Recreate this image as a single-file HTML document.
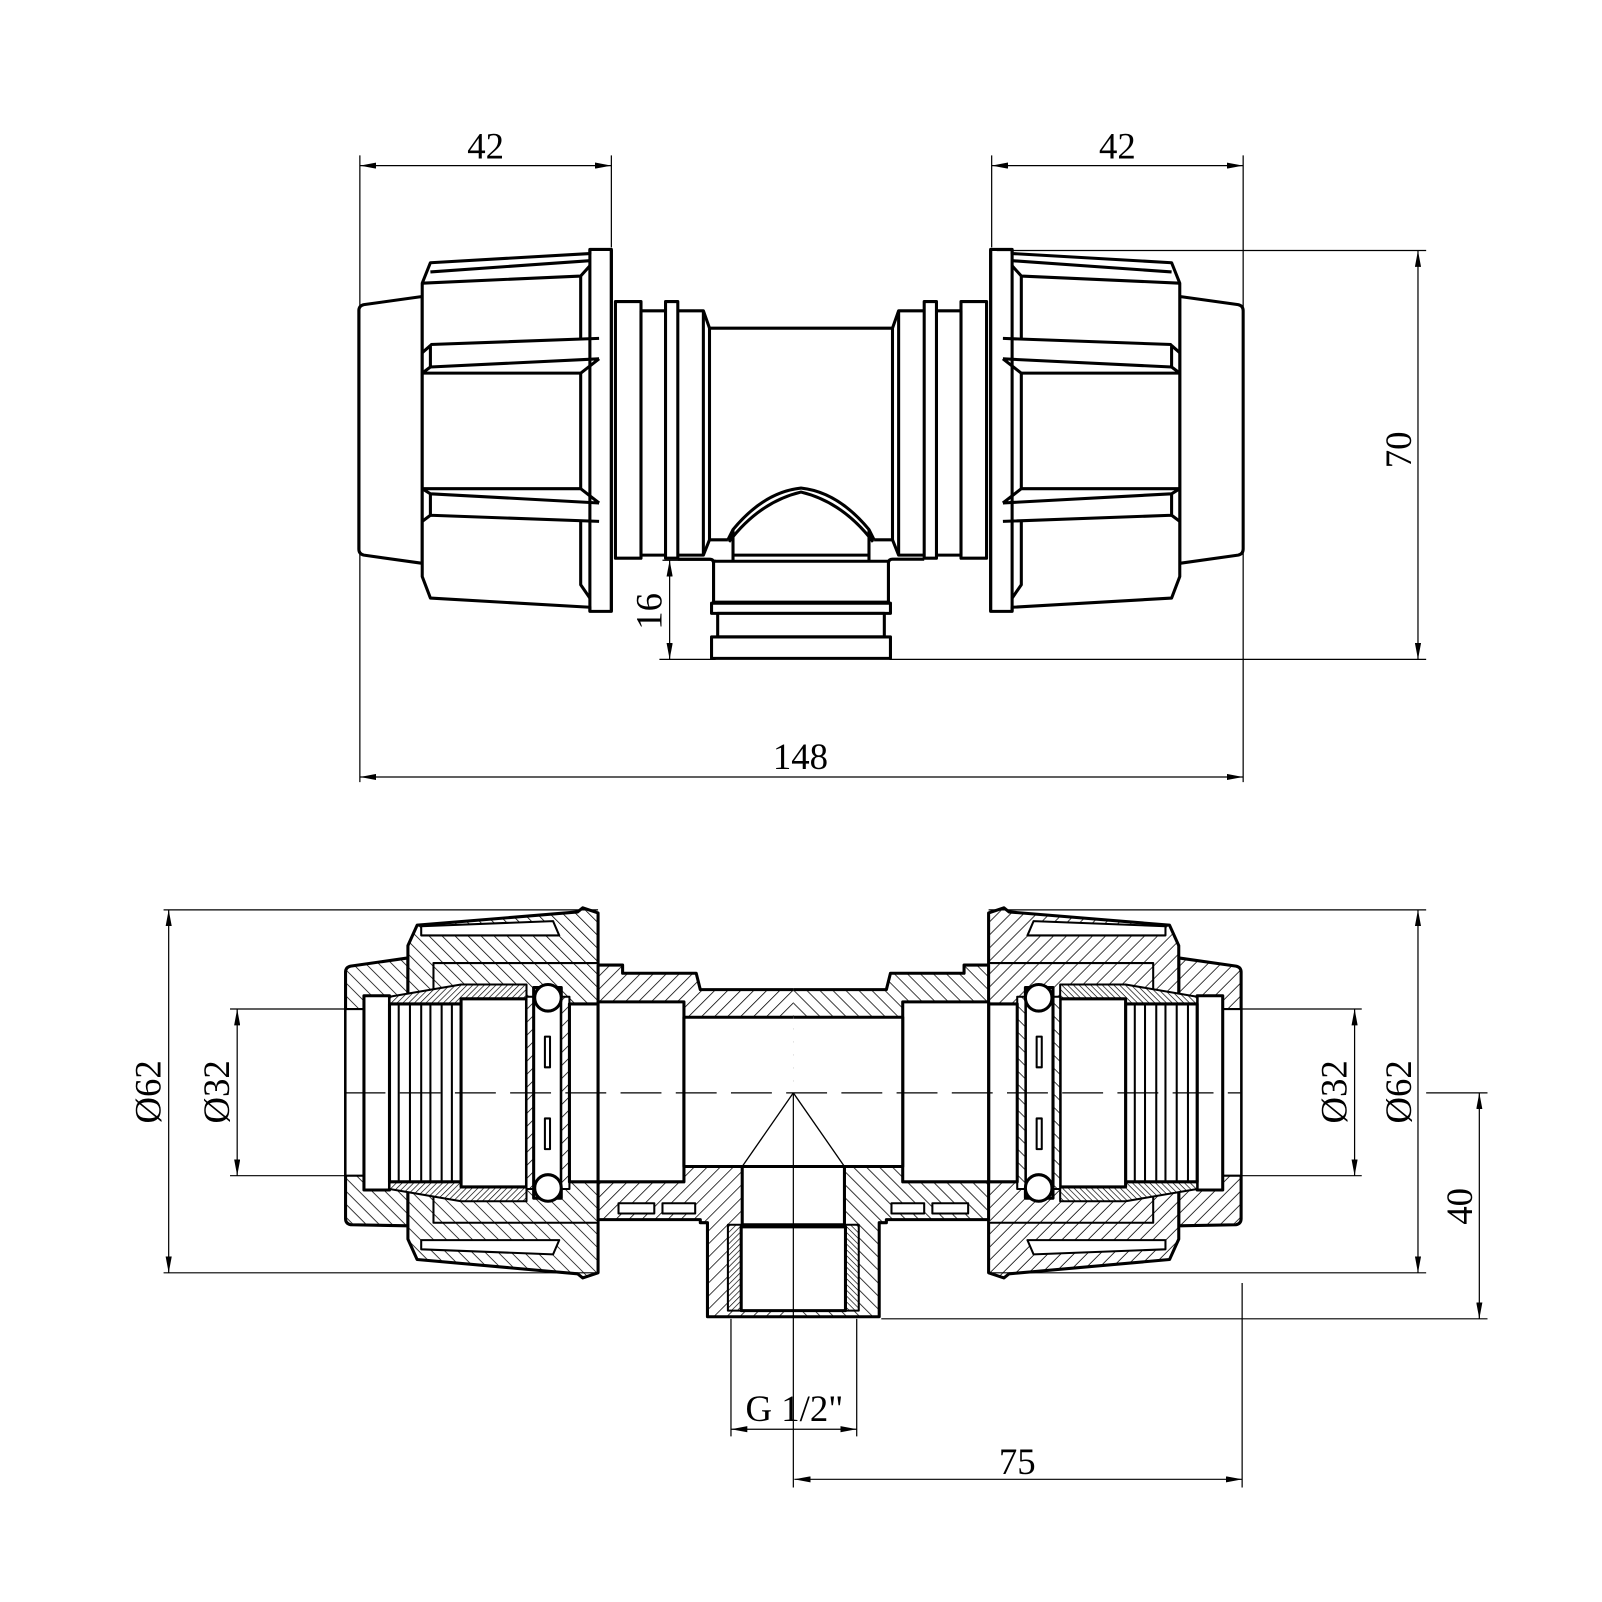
<!DOCTYPE html>
<html><head><meta charset="utf-8"><style>html,body{margin:0;padding:0;background:#fff}svg{display:block}</style></head><body>
<svg width="1602" height="1602" viewBox="0 0 1567 1567" xmlns="http://www.w3.org/2000/svg" font-family="Liberation Serif, serif">
<defs>
<pattern id="hA" width="9" height="9" patternUnits="userSpaceOnUse" patternTransform="rotate(45)"><rect width="9" height="9" fill="#fff"/><line x1="0" y1="0" x2="0" y2="9" stroke="#000" stroke-width="1.5"/></pattern>
<pattern id="hB" width="9" height="9" patternUnits="userSpaceOnUse" patternTransform="rotate(-45)"><rect width="9" height="9" fill="#fff"/><line x1="0" y1="0" x2="0" y2="9" stroke="#000" stroke-width="1.5"/></pattern>
<pattern id="hX" width="4" height="4" patternUnits="userSpaceOnUse" patternTransform="rotate(45)"><rect width="4" height="4" fill="#fff"/><line x1="0" y1="0" x2="0" y2="4" stroke="#000" stroke-width="1.3"/></pattern>
<marker id="ar" viewBox="0 0 16 6" refX="16" refY="3" markerWidth="16" markerHeight="6" orient="auto-start-reverse" markerUnits="userSpaceOnUse"><path d="M0,0 L16,3 L0,6 z" fill="#000"/></marker>
<clipPath id="cT"><rect x="0" y="0" width="783.5" height="1567"/></clipPath>
<clipPath id="cS"><rect x="0" y="0" width="776" height="1567"/></clipPath>
</defs>

<!-- ========== TOP VIEW ========== -->
<g id="topHalf" clip-path="url(#cT)" fill="#fff" stroke="#000" stroke-width="3" stroke-linejoin="round">
 <path d="M413,290 L356,298 Q351,299 351,304 L351,537 Q351,542 356,543 L413,551 Z"/>
 <path d="M413,277 L421,257 L577,248 L577,244 L598,244 L598,598 L577,598 L577,594 L421,585 L413,564 Z"/>
 <line x1="598" y1="244" x2="598" y2="598"/>
 <line x1="577" y1="244" x2="577" y2="598"/>
 <path d="M413,277 L568,270 L577,260 M421,266 L577,255" fill="none"/>
 <path d="M421,337 L586,331 M413,345 L421,338 L421,359 L413,365 M421,359 L586,351 M413,365 L568,365 L586,351" fill="none"/>
 <path d="M413,478 L568,478 L586,492 M421,483 L586,492 M413,478 L421,483 L421,504 L413,510 M421,504 L586,510" fill="none"/>
 <path d="M568,270 L568,331 M568,365 L568,478 M568,510 L568,572 L577,585" fill="none"/>
 <rect x="602" y="295" width="25" height="251"/>
 <rect x="627" y="304" width="24" height="239"/>
 <rect x="651" y="295" width="12" height="251"/>
 <path d="M663,304 L688,304 L694,321 L800,321 M663,543 L688,543 L694,528 L712,528" fill="none"/>
 <line x1="688" y1="304" x2="688" y2="543"/>
 <line x1="694" y1="321" x2="694" y2="528"/>
 <path d="M712,528 L717,518 Q750,478 790,477 M717,518 L717,548 M713,530 Q745,488 790,480" fill="none"/>
 <path d="M663,547 L694,547 Q698,547 698,551 L698,590" fill="none"/>
 <rect x="698" y="549" width="110" height="40"/>
 <rect x="696" y="590" width="110" height="10"/>
 <rect x="702" y="600" width="110" height="23"/>
 <rect x="696" y="623" width="110" height="21"/>
 <line x1="717" y1="543" x2="800" y2="543"/>
</g>
<use href="#topHalf" transform="translate(1567,0) scale(-1,1)"/>

<!-- top view dimensions -->
<g stroke="#000" stroke-width="1.2" fill="none">
 <line x1="352" y1="152" x2="352" y2="765"/>
 <line x1="598" y1="152" x2="598" y2="242"/>
 <line x1="970" y1="152" x2="970" y2="242"/>
 <line x1="1216" y1="152" x2="1216" y2="765"/>
 <line x1="352" y1="162" x2="598" y2="162" marker-start="url(#ar)" marker-end="url(#ar)"/>
 <line x1="970" y1="162" x2="1216" y2="162" marker-start="url(#ar)" marker-end="url(#ar)"/>
 <line x1="352" y1="760" x2="1216" y2="760" marker-start="url(#ar)" marker-end="url(#ar)"/>
 <line x1="975" y1="245" x2="1395" y2="245"/>
 <line x1="870" y1="645" x2="1395" y2="645"/>
 <line x1="645" y1="645" x2="700" y2="645"/>
 <line x1="1387" y1="245" x2="1387" y2="645" marker-start="url(#ar)" marker-end="url(#ar)"/>
 <line x1="648" y1="548" x2="700" y2="548"/>
 <line x1="655" y1="548" x2="655" y2="645" marker-start="url(#ar)" marker-end="url(#ar)"/>
</g>
<g font-size="36" text-anchor="middle" fill="#000">
 <text x="475" y="155">42</text>
 <text x="1093" y="155">42</text>
 <text x="783" y="752">148</text>
 <text transform="translate(1380,440) rotate(-90)">70</text>
 <text transform="translate(647,598) rotate(-90)">16</text>
</g>

<!-- ========== SECTION VIEW ========== -->
<g id="secHalf" clip-path="url(#cS)" stroke="#000" stroke-width="3" stroke-linejoin="round">
 <path d="M399,937 L343,945 Q338,946 338,951 L338,1192 Q338,1197 343,1198 L399,1199 Z" fill="url(#hB)"/>
 <rect x="338" y="987" width="18" height="163" fill="#fff" stroke-width="2"/>
 <rect x="356" y="974" width="25" height="190" fill="#fff"/>
 <path d="M399,925 L408,905 L565,892 L570,888 L585,893 L585,1245 L570,1250 L565,1246 L408,1232 L399,1212 Z" fill="url(#hB)"/>
 <path d="M412,906 L541,901 L547,915 L412,915 Z M412,1222 L541,1227 L547,1213 L412,1213 Z" fill="#fff" stroke-width="2"/>
 <rect x="424" y="942" width="161" height="254" fill="url(#hB)" stroke-width="2"/>
 <path d="M381,975 L451,963 L515,963 L515,977 L451,977 L451,982 L381,982 Z" fill="url(#hX)" stroke-width="2"/>
 <path d="M381,1163 L451,1175 L515,1175 L515,1161 L451,1161 L451,1156 L381,1156 Z" fill="url(#hX)" stroke-width="2"/>
 <rect x="381" y="982" width="70" height="174" fill="#fff"/>
 <path d="M390,982 V1156 M401,982 V1156 M412,982 V1156 M421,982 V1156 M432,982 V1156 M442,982 V1156" stroke-width="2"/>
 <rect x="451" y="977" width="64" height="184" fill="#fff"/>
 <rect x="515" y="975" width="7" height="188" fill="url(#hA)" stroke-width="2"/>
 <rect x="522" y="966" width="27" height="206" fill="#fff"/>
 <rect x="549" y="975" width="8" height="188" fill="url(#hA)" stroke-width="2"/>
 <circle cx="536" cy="976" r="13" fill="#fff"/>
 <circle cx="536" cy="1162" r="13" fill="#fff"/>
 <rect x="533" y="1014" width="5" height="30" fill="#fff" stroke-width="2"/>
 <rect x="533" y="1094" width="5" height="30" fill="#fff" stroke-width="2"/>
 <rect x="557" y="982" width="28" height="174" fill="#fff"/>
 <path d="M585,944 L609,944 L609,952 L681,952 L685,968 L800,968 L800,1288 L692,1288 L692,1196 L685,1196 L685,1193 L585,1193 Z" fill="url(#hA)"/>
 <path d="M605,1177 H640 V1187 H605 Z M648,1177 H680 V1187 H648 Z" fill="#fff" stroke-width="2"/>
 <rect x="585" y="980" width="84" height="176" fill="#fff"/>
 <rect x="669" y="995" width="140" height="146" fill="#fff"/>
 <rect x="726" y="1141" width="80" height="57" fill="#fff"/>
 <rect x="712" y="1198" width="13" height="84" fill="url(#hX)" stroke-width="2"/>
 <rect x="725" y="1200" width="80" height="82" fill="#fff"/>
 <line x1="776" y1="1069" x2="726" y2="1141" stroke-width="1.3"/>
</g>
<use href="#secHalf" transform="translate(1552,0) scale(-1,1)"/>

<g stroke="#000" stroke-width="1.2" fill="none">
 <line x1="337" y1="1069" x2="1215" y2="1069" stroke-dasharray="40,14"/>
 <line x1="776" y1="1069" x2="776" y2="1455"/>
 <line x1="160" y1="890" x2="585" y2="890"/>
 <line x1="160" y1="1245" x2="585" y2="1245"/>
 <line x1="165" y1="890" x2="165" y2="1245" marker-start="url(#ar)" marker-end="url(#ar)"/>
 <line x1="225" y1="987" x2="340" y2="987"/>
 <line x1="225" y1="1150" x2="340" y2="1150"/>
 <line x1="232" y1="987" x2="232" y2="1150" marker-start="url(#ar)" marker-end="url(#ar)"/>
 <line x1="967" y1="890" x2="1395" y2="890"/>
 <line x1="967" y1="1245" x2="1395" y2="1245"/>
 <line x1="1387" y1="890" x2="1387" y2="1245" marker-start="url(#ar)" marker-end="url(#ar)"/>
 <line x1="1212" y1="987" x2="1332" y2="987"/>
 <line x1="1212" y1="1150" x2="1332" y2="1150"/>
 <line x1="1325" y1="987" x2="1325" y2="1150" marker-start="url(#ar)" marker-end="url(#ar)"/>
 <line x1="1395" y1="1069" x2="1455" y2="1069"/>
 <line x1="862" y1="1290" x2="1455" y2="1290"/>
 <line x1="1447" y1="1069" x2="1447" y2="1290" marker-start="url(#ar)" marker-end="url(#ar)"/>
 <line x1="1215" y1="1255" x2="1215" y2="1455"/>
 <line x1="777" y1="1447" x2="1215" y2="1447" marker-start="url(#ar)" marker-end="url(#ar)"/>
 <line x1="715" y1="1290" x2="715" y2="1405"/>
 <line x1="838" y1="1290" x2="838" y2="1405"/>
 <line x1="715" y1="1398" x2="838" y2="1398" marker-start="url(#ar)" marker-end="url(#ar)"/>
</g>
<g font-size="36" text-anchor="middle" fill="#000">
 <text transform="translate(157,1068) rotate(-90)">Ø62</text>
 <text transform="translate(224,1068) rotate(-90)">Ø32</text>
 <text transform="translate(1317,1068) rotate(-90)">Ø32</text>
 <text transform="translate(1380,1068) rotate(-90)">Ø62</text>
 <text transform="translate(1440,1180) rotate(-90)">40</text>
 <text x="995" y="1442">75</text>
 <text x="777" y="1390">G 1/2"</text>
</g>
</svg>
</body></html>
